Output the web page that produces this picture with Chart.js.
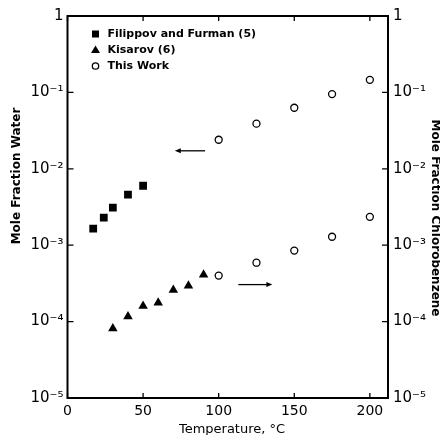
<!DOCTYPE html>
<html>
<head>
<meta charset="utf-8">
<script src="https://cdn.jsdelivr.net/npm/chart.js@4/dist/chart.umd.min.js"></script>
<style>
  body { margin: 0; background: #fff; }
  canvas { display: block; }
</style>
</head>
<body>
<canvas id="solChart" width="440" height="435"></canvas>
<script>
// values (temperature in C, mole fractions)
const filippovT = [17, 24, 30, 40, 50];
const filippovWater = [1.65e-3, 2.3e-3, 3.1e-3, 4.6e-3, 6.0e-3];
const kisarovT = [30, 40, 50, 60, 70, 80, 90];
const kisarovChloro = [8.1e-5, 1.17e-4, 1.6e-4, 1.77e-4, 2.6e-4, 2.95e-4, 4.1e-4];
const workT = [100, 125, 150, 175, 200];
const workWater = [0.024, 0.039, 0.063, 0.095, 0.146];
const workChloro = [4.0e-4, 5.9e-4, 8.5e-4, 1.29e-3, 2.35e-3];

const xTicks = [0, 50, 100, 150, 200];
const yTicks = [1e-5, 1e-4, 1e-3, 1e-2, 1e-1, 1];
const yTickLabels = ["10⁻⁵", "10⁻⁴", "10⁻³", "10⁻²", "10⁻¹", "1"];

// arrows pointing to the axis each set belongs to: [T, value] start -> end
const arrowWater = [[91, 0.0172], [71, 0.0172]];
const arrowChloro = [[113, 3.05e-4], [135.5, 3.05e-4]];

const legendLabels = ["Filippov and Furman (5)", "Kisarov (6)", "This Work"];

function pts(xs, ys) {
  return xs.map((x, i) => ({ x: x, y: ys[i] }));
}

function yLabel(value) {
  const i = yTicks.findIndex(v => Math.abs(Math.log10(v) - Math.log10(value)) < 1e-6);
  return i >= 0 ? yTickLabels[i] : "";
}

function drawMarker(ctx, style, x, y) {
  ctx.save();
  ctx.fillStyle = "#000";
  ctx.strokeStyle = "#000";
  if (style === "rect") {
    ctx.fillRect(x - 3.5, y - 3.5, 7, 7);
  } else if (style === "triangle") {
    ctx.beginPath();
    ctx.moveTo(x, y - 4.5);
    ctx.lineTo(x + 4.5, y + 3);
    ctx.lineTo(x - 4.5, y + 3);
    ctx.closePath();
    ctx.fill();
  } else {
    ctx.lineWidth = 1.3;
    ctx.beginPath();
    ctx.arc(x, y, 3.2, 0, Math.PI * 2);
    ctx.stroke();
  }
  ctx.restore();
}

function drawArrow(ctx, xs, ys, arrow) {
  const x1 = xs.getPixelForValue(arrow[0][0]);
  const y1 = ys.getPixelForValue(arrow[0][1]);
  const x2 = xs.getPixelForValue(arrow[1][0]);
  const y2 = ys.getPixelForValue(arrow[1][1]);
  const dir = x2 > x1 ? 1 : -1;
  ctx.save();
  ctx.strokeStyle = "#000";
  ctx.fillStyle = "#000";
  ctx.lineWidth = 1.3;
  ctx.beginPath();
  ctx.moveTo(x1, y1);
  ctx.lineTo(x2 - dir * 4, y2);
  ctx.stroke();
  ctx.beginPath();
  ctx.moveTo(x2, y2);
  ctx.lineTo(x2 - dir * 6, y2 - 2.5);
  ctx.lineTo(x2 - dir * 6, y2 + 2.5);
  ctx.closePath();
  ctx.fill();
  ctx.restore();
}

// frame, inward ticks, arrows, legend and axis titles
const extras = {
  id: "extras",
  afterDraw(chart) {
    const ctx = chart.ctx;
    const a = chart.chartArea;
    const xs = chart.scales.x;
    const yl = chart.scales.y;
    const yr = chart.scales.y2;

    ctx.save();
    ctx.strokeStyle = "#000";
    ctx.lineWidth = 2;
    ctx.strokeRect(a.left, a.top, a.right - a.left, a.bottom - a.top);

    ctx.lineWidth = 1.3;
    ctx.beginPath();
    xTicks.forEach(v => {
      const px = xs.getPixelForValue(v);
      ctx.moveTo(px, a.bottom); ctx.lineTo(px, a.bottom - 5);
      ctx.moveTo(px, a.top); ctx.lineTo(px, a.top + 5);
    });
    yTicks.forEach(v => {
      const py = yl.getPixelForValue(v);
      ctx.moveTo(a.left, py); ctx.lineTo(a.left + 6, py);
      const pr = yr.getPixelForValue(v);
      ctx.moveTo(a.right, pr); ctx.lineTo(a.right - 6, pr);
    });
    ctx.stroke();
    ctx.restore();

    drawArrow(ctx, xs, yl, arrowWater);
    drawArrow(ctx, xs, yr, arrowChloro);

    // legend
    const styles = ["rect", "triangle", "circle"];
    ctx.save();
    ctx.font = "bold 11px 'DejaVu Sans'";
    ctx.fillStyle = "#000";
    ctx.textBaseline = "middle";
    legendLabels.forEach((txt, i) => {
      const y = a.top + 18 + i * 16;
      drawMarker(ctx, styles[i], a.left + 28, y);
      ctx.fillText(txt, a.left + 40, y);
    });
    ctx.restore();

    // axis titles
    ctx.save();
    ctx.fillStyle = "#000";
    ctx.textAlign = "center";
    ctx.textBaseline = "middle";
    ctx.font = "bold 12px 'DejaVu Sans'";
    ctx.save();
    ctx.translate(17, 176);
    ctx.rotate(-Math.PI / 2);
    ctx.fillText("Mole Fraction Water", 0, 0);
    ctx.restore();
    ctx.save();
    ctx.translate(435, 218);
    ctx.rotate(Math.PI / 2);
    ctx.fillText("Mole Fraction Chlorobenzene", 0, 0);
    ctx.restore();
    ctx.font = "13px 'DejaVu Sans'";
    ctx.fillText("Temperature, °C", 232, 430);
    ctx.restore();
  }
};

const ctx = document.getElementById("solChart").getContext("2d");
const chart = new Chart(ctx, {
  type: "scatter",
  data: {
    datasets: [
      {
        label: legendLabels[0],
        data: pts(filippovT, filippovWater),
        yAxisID: "y",
        pointStyle: "rect",
        pointRadius: 5.5,
        backgroundColor: "#000",
        borderWidth: 0
      },
      {
        label: legendLabels[1],
        data: pts(kisarovT, kisarovChloro),
        yAxisID: "y2",
        pointStyle: "triangle",
        pointRadius: 5.5,
        backgroundColor: "#000",
        borderWidth: 0
      },
      {
        label: legendLabels[2],
        data: pts(workT, workWater),
        yAxisID: "y",
        pointStyle: "circle",
        pointRadius: 3.5,
        backgroundColor: "#fff",
        borderColor: "#000",
        borderWidth: 1.3
      },
      {
        label: legendLabels[2],
        data: pts(workT, workChloro),
        yAxisID: "y2",
        pointStyle: "circle",
        pointRadius: 3.5,
        backgroundColor: "#fff",
        borderColor: "#000",
        borderWidth: 1.3
      }
    ]
  },
  options: {
    responsive: false,
    animation: false,
    layout: { padding: { top: 16, left: 0, right: 0, bottom: 0 } },
    plugins: {
      legend: { display: false },
      tooltip: { enabled: false }
    },
    scales: {
      x: {
        type: "linear",
        min: 0,
        max: 212,
        grid: { display: false, drawTicks: false },
        border: { display: false },
        afterBuildTicks: s => { s.ticks = xTicks.map(v => ({ value: v })); },
        afterFit: s => { s.height = 37; },
        ticks: {
          padding: 5,
          color: "#000",
          font: { family: "DejaVu Sans", size: 14 },
          maxRotation: 0,
          autoSkip: false
        }
      },
      y: {
        type: "logarithmic",
        position: "left",
        min: 1e-5,
        max: 1,
        grid: { display: false, drawTicks: false },
        border: { display: false },
        afterBuildTicks: s => { s.ticks = yTicks.map(v => ({ value: v })); },
        afterFit: s => { s.width = 67.5; },
        ticks: {
          padding: 4,
          color: "#000",
          font: { family: "DejaVu Sans", size: 15 },
          autoSkip: false,
          callback: v => yLabel(v)
        }
      },
      y2: {
        type: "logarithmic",
        position: "right",
        min: 1e-5,
        max: 1,
        grid: { display: false, drawTicks: false },
        border: { display: false },
        afterBuildTicks: s => { s.ticks = yTicks.map(v => ({ value: v })); },
        afterFit: s => { s.width = 52; },
        ticks: {
          padding: 5,
          color: "#000",
          font: { family: "DejaVu Sans", size: 15 },
          autoSkip: false,
          callback: v => yLabel(v)
        }
      }
    }
  },
  plugins: [extras]
});
</script>
</body>
</html>
